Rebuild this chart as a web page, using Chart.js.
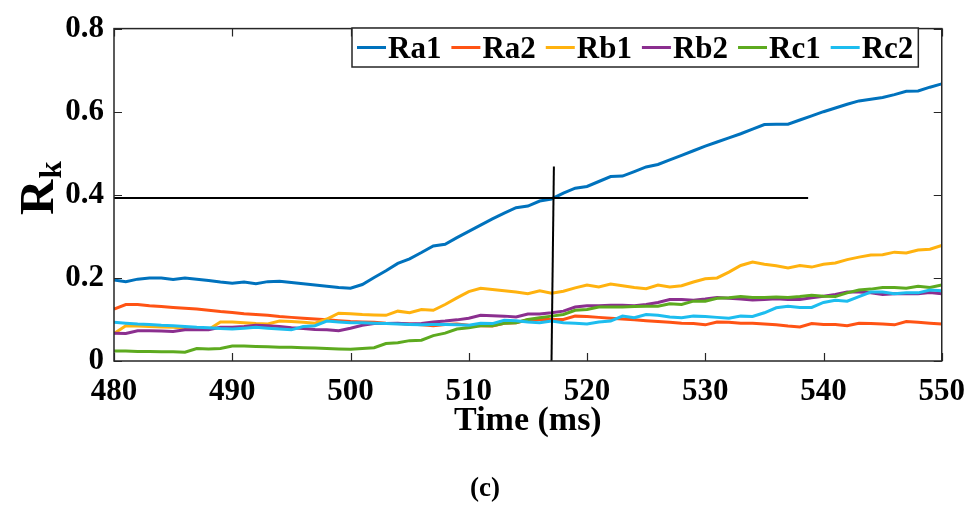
<!DOCTYPE html>
<html>
<head>
<meta charset="utf-8">
<script src="https://cdn.jsdelivr.net/npm/chart.js@4/dist/chart.umd.min.js"></script>
<style>
  html, body { margin: 0; padding: 0; background: #fff; }
  #wrap { width: 977px; height: 505px; }
</style>
</head>
<body>
<div id="wrap"><canvas id="c" width="977" height="505"></canvas></div>
<script>
// Sample times (ms)
const timeMs = [480,481,482,483,484,485,486,487,488,489,490,491,492,493,494,495,496,497,498,499,
  500,501,502,503,504,505,506,507,508,509,510,511,512,513,514,515,516,517,518,519,
  520,521,522,523,524,525,526,527,528,529,530,531,532,533,534,535,536,537,538,539,
  540,541,542,543,544,545,546,547,548,549,550];

const ra1 = [0.195,0.191,0.197,0.200,0.200,0.196,0.200,0.197,0.194,0.190,0.187,0.190,0.186,0.191,0.192,0.189,0.186,0.183,0.180,0.177,
  0.175,0.184,0.201,0.217,0.235,0.246,0.261,0.277,0.281,0.297,0.312,0.327,0.342,0.356,0.369,0.373,0.385,0.390,0.404,0.416,
  0.420,0.432,0.444,0.445,0.456,0.467,0.473,0.484,0.495,0.506,0.517,0.527,0.537,0.547,0.558,0.569,0.570,0.570,0.580,0.590,
  0.600,0.609,0.618,0.626,0.630,0.634,0.641,0.649,0.650,0.659,0.667];
const ra2 = [0.125,0.136,0.136,0.133,0.131,0.129,0.127,0.125,0.122,0.119,0.117,0.114,0.112,0.110,0.107,0.105,0.103,0.101,0.099,0.097,
  0.095,0.094,0.093,0.091,0.090,0.089,0.087,0.085,0.088,0.089,0.086,0.085,0.084,0.091,0.092,0.099,0.100,0.100,0.100,0.108,
  0.107,0.105,0.103,0.101,0.099,0.097,0.095,0.093,0.091,0.090,0.087,0.094,0.093,0.091,0.091,0.089,0.087,0.084,0.082,0.090,
  0.088,0.088,0.085,0.091,0.090,0.089,0.087,0.095,0.093,0.091,0.089];
const rb1 = [0.066,0.085,0.084,0.083,0.082,0.081,0.079,0.077,0.076,0.094,0.094,0.092,0.090,0.089,0.096,0.095,0.093,0.091,0.101,0.115,
  0.114,0.112,0.111,0.110,0.120,0.116,0.124,0.122,0.136,0.152,0.167,0.175,0.172,0.169,0.166,0.162,0.169,0.163,0.168,0.176,
  0.183,0.178,0.185,0.181,0.177,0.174,0.183,0.178,0.181,0.190,0.198,0.200,0.214,0.230,0.238,0.233,0.229,0.224,0.230,0.226,
  0.233,0.236,0.244,0.250,0.255,0.256,0.262,0.260,0.267,0.269,0.278];
const rb2 = [0.067,0.066,0.073,0.073,0.072,0.071,0.075,0.075,0.075,0.081,0.081,0.083,0.086,0.085,0.083,0.080,0.078,0.076,0.075,0.073,
  0.079,0.086,0.090,0.090,0.091,0.089,0.090,0.094,0.096,0.099,0.103,0.110,0.109,0.108,0.106,0.113,0.113,0.116,0.120,0.130,
  0.133,0.133,0.134,0.134,0.133,0.136,0.141,0.148,0.148,0.146,0.149,0.153,0.151,0.149,0.147,0.148,0.150,0.148,0.148,0.152,
  0.156,0.160,0.166,0.166,0.164,0.160,0.162,0.162,0.162,0.165,0.162];
const rc1 = [0.024,0.024,0.023,0.023,0.022,0.022,0.021,0.030,0.029,0.030,0.036,0.036,0.035,0.034,0.033,0.033,0.032,0.031,0.030,0.029,
  0.028,0.030,0.032,0.042,0.044,0.049,0.050,0.061,0.067,0.077,0.080,0.085,0.085,0.091,0.092,0.100,0.104,0.108,0.112,0.122,
  0.124,0.130,0.130,0.130,0.131,0.132,0.132,0.138,0.136,0.144,0.144,0.151,0.152,0.155,0.153,0.153,0.154,0.153,0.155,0.158,
  0.156,0.155,0.164,0.171,0.173,0.177,0.177,0.175,0.180,0.177,0.183];
const rc2 = [0.093,0.091,0.089,0.088,0.086,0.085,0.083,0.081,0.080,0.078,0.077,0.079,0.081,0.079,0.077,0.075,0.083,0.085,0.096,0.094,
  0.092,0.092,0.091,0.090,0.089,0.088,0.087,0.088,0.088,0.087,0.086,0.091,0.090,0.098,0.097,0.094,0.092,0.096,0.092,0.091,
  0.089,0.094,0.096,0.108,0.104,0.112,0.110,0.106,0.104,0.108,0.107,0.105,0.103,0.108,0.107,0.116,0.128,0.132,0.129,0.129,
  0.141,0.146,0.144,0.155,0.166,0.166,0.162,0.164,0.164,0.171,0.169];

const seriesNames  = ['Ra1','Ra2','Rb1','Rb2','Rc1','Rc2'];
const seriesValues = [ra1, ra2, rb1, rb2, rc1, rc2];
const seriesColors = ['#0072BD','#FF5314','#FFB20F','#8B2F8F','#5DAA1F','#1DBDEF'];

// Threshold guide lines
const guideH = [{x: 480, y: 0.392}, {x: 538.7, y: 0.392}];
const guideV = [{x: 517.0, y: 0}, {x: 517.2, y: 0.468}];

const xTicks = [480,490,500,510,520,530,540,550];
const yTicks = [0,0.2,0.4,0.6,0.8];

const SERIF = '"Liberation Serif", "Times New Roman", serif';
const AXIS_COLOR = '#262626';

const datasets = [
  {label: '_h', data: guideH, borderColor: '#000', borderWidth: 2, order: 0},
  {label: '_v', data: guideV, borderColor: '#000', borderWidth: 2, order: 0}
];
seriesNames.forEach((name, i) => {
  datasets.push({
    label: name,
    data: timeMs.map((t, j) => ({x: t, y: seriesValues[i][j]})),
    borderColor: seriesColors[i],
    backgroundColor: seriesColors[i],
    borderWidth: 3,
    order: seriesNames.length - i
  });
});

// Box frame with inward ticks on all four sides, y title, legend box and caption
const framePlugin = {
  id: 'frame',
  afterDatasetsDraw(chart) {
    const {ctx, chartArea: a, scales: {x, y}} = chart;
    const L = 8;
    ctx.save();
    ctx.strokeStyle = AXIS_COLOR;
    ctx.lineWidth = 1.5;
    ctx.strokeRect(a.left, a.top, a.right - a.left, a.bottom - a.top);
    ctx.beginPath();
    xTicks.forEach(v => {
      const px = Math.round(x.getPixelForValue(v)) + 0.5;
      ctx.moveTo(px, a.bottom); ctx.lineTo(px, a.bottom - L);
      ctx.moveTo(px, a.top); ctx.lineTo(px, a.top + L);
    });
    yTicks.forEach(v => {
      const py = Math.round(y.getPixelForValue(v)) + 0.5;
      ctx.moveTo(a.left, py); ctx.lineTo(a.left + L, py);
      ctx.moveTo(a.right, py); ctx.lineTo(a.right - L, py);
    });
    ctx.lineWidth = 1.2;
    ctx.stroke();
    ctx.restore();
  },
  afterDraw(chart) {
    const {ctx} = chart;
    ctx.save();
    // y-axis title R with subscript k
    ctx.fillStyle = '#000';
    ctx.translate(53, 215);
    ctx.rotate(-Math.PI / 2);
    ctx.textBaseline = 'alphabetic';
    ctx.textAlign = 'left';
    ctx.font = 'bold 49px ' + SERIF;
    ctx.fillText('R', 0, 0);
    const rw = ctx.measureText('R').width;
    ctx.font = 'bold 31px ' + SERIF;
    ctx.fillText('k', rw + 1, 8);
    ctx.restore();

    // panel caption
    ctx.save();
    ctx.fillStyle = '#000';
    ctx.font = 'bold 27px ' + SERIF;
    ctx.textAlign = 'center';
    ctx.textBaseline = 'middle';
    ctx.fillText('(c)', 485, 489);
    ctx.restore();

    // legend box inside the plot, top right
    ctx.save();
    ctx.font = 'bold 31px ' + SERIF;
    const bx = 352, by = 28, bh = 39;
    let xx = bx + 5;
    const items = [];
    seriesNames.forEach((n, i) => {
      const w = ctx.measureText(n).width;
      items.push({n, c: seriesColors[i], x: xx, w});
      xx += 31 + w + 10;
    });
    const bw = xx - 10 + 5 - bx;
    ctx.fillStyle = '#fff';
    ctx.fillRect(bx, by, bw, bh);
    ctx.strokeStyle = AXIS_COLOR;
    ctx.lineWidth = 1.5;
    ctx.strokeRect(bx, by, bw, bh);
    const cy = by + bh / 2;
    items.forEach(it => {
      ctx.strokeStyle = it.c;
      ctx.lineWidth = 3;
      ctx.beginPath();
      ctx.moveTo(it.x, cy); ctx.lineTo(it.x + 29, cy);
      ctx.stroke();
      ctx.fillStyle = '#000';
      ctx.textBaseline = 'middle';
      ctx.textAlign = 'left';
      ctx.fillText(it.n, it.x + 31, cy + 2);
    });
    ctx.restore();
  }
};

new Chart(document.getElementById('c'), {
  type: 'line',
  data: {datasets},
  options: {
    responsive: false,
    animation: false,
    events: [],
    layout: {padding: {top: 22, right: 34, left: 0, bottom: 32.4}},
    elements: {point: {radius: 0}, line: {tension: 0}},
    plugins: {
      legend: {display: false},
      tooltip: {enabled: false},
      title: {display: false}
    },
    scales: {
      x: {
        type: 'linear',
        min: 480, max: 550,
        afterFit: s => { s.height = 111.6; },
        afterBuildTicks: s => { s.ticks = xTicks.map(v => ({value: v})); },
        grid: {display: false, drawTicks: false},
        border: {display: false},
        ticks: {
          color: '#000', padding: 12,
          font: {family: SERIF, size: 31, weight: 'bold'},
          maxRotation: 0
        },
        title: {
          display: true, text: 'Time (ms)', color: '#000',
          font: {family: SERIF, size: 34, weight: 'bold'},
          padding: {top: 0, bottom: 31}
        }
      },
      y: {
        type: 'linear',
        min: 0, max: 0.8,
        afterFit: s => { s.width = 114; },
        afterBuildTicks: s => { s.ticks = yTicks.map(v => ({value: v})); },
        grid: {display: false, drawTicks: false},
        border: {display: false},
        ticks: {
          color: '#000', padding: 10,
          font: {family: SERIF, size: 31, weight: 'bold'},
          callback: v => (v === 0 ? '0' : v.toFixed(1))
        }
      }
    }
  },
  plugins: [framePlugin]
});
</script>
</body>
</html>
